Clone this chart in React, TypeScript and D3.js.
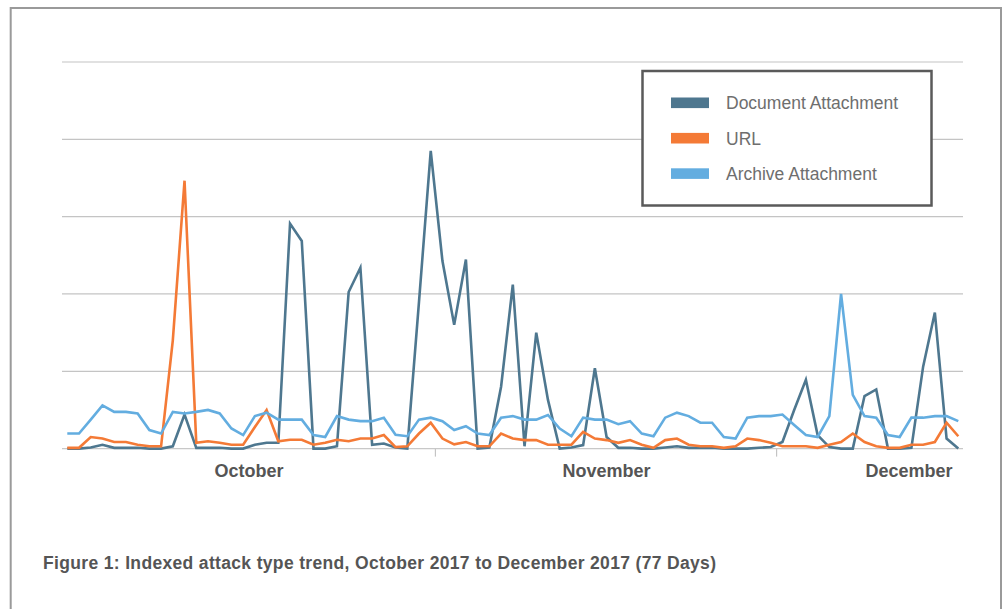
import React from "react";
import * as d3 from "d3";

const seriesNames = ["Document Attachment", "URL", "Archive Attachment"];
const seriesColors = ["#4e778f", "#f47a36", "#63ade0"];

const documentAttachment = [
  0, 0, 0.3, 1.0, 0.2, 0.2, 0.2, 0, 0, 0.6, 8.8, 0.2, 0.2, 0.2, 0, 0, 1.0, 1.5, 1.5, 58.2, 53.7, 0, 0, 0.6, 40.5, 46.8, 1.0,
  1.3, 0.3, 0, 38, 77, 48.5, 32, 48.9, 0, 0.3, 16, 42.4, 0.6, 30, 12.6, 0, 0.3, 0.9, 20.8, 3.0, 0.2, 0.2, 0, 0, 0.3, 0.6, 0.2, 0.2,
  0.2, 0, 0, 0, 0.2, 0.4, 1.7, 10, 17.8, 3.5, 0.4, 0, 0, 13.6, 15.3, 0, 0, 0.2, 21.2, 35.2, 2.6, 0,
];
const url = [
  0.2, 0.2, 3.0, 2.6, 1.7, 1.7, 1.0, 0.6, 0.6, 28, 69.3, 1.5, 1.9, 1.5, 1.0, 1.0, 5.6, 10.0, 1.9, 2.3, 2.3, 1.0, 1.5, 2.3, 1.9, 2.6, 2.6,
  3.5, 0.4, 0.6, 3.9, 6.7, 2.6, 1.1, 1.7, 0.6, 0.6, 3.9, 2.6, 2.2, 2.2, 1.0, 1.0, 1.0, 4.3, 2.6, 2.2, 1.5, 2.2, 1.0, 0.2, 2.2, 2.6, 1.0, 0.6,
  0.6, 0.2, 0.6, 2.6, 2.2, 1.5, 0.6, 0.6, 0.6, 0.2, 1.0, 1.7, 3.9, 1.7, 0.6, 0.2, 0.2, 1.0, 1.0, 1.7, 6.7, 3.2,
];
const archiveAttachment = [
  3.9, 3.9, 7.5, 11.2, 9.5, 9.5, 9.1, 4.8, 3.9, 9.5, 9.1, 9.5, 10.0, 9.1, 5.2, 3.5, 8.4, 9.3, 7.5, 7.5, 7.5, 3.5, 3.0, 8.4, 7.5, 7.1, 7.1,
  8.0, 3.6, 3.2, 7.5, 8.0, 7.1, 4.8, 5.8, 3.9, 3.5, 8.0, 8.4, 7.5, 7.5, 8.7, 5.2, 3.2, 8.0, 7.5, 7.5, 6.3, 7.1, 3.9, 3.2, 8.0, 9.3, 8.4, 6.7,
  6.7, 3.0, 2.6, 8.0, 8.4, 8.4, 8.8, 6.1, 3.5, 3.0, 8.4, 40.0, 13.9, 8.4, 8.0, 3.5, 3.0, 8.0, 8.0, 8.4, 8.4, 7.1,
];

const monthLabels = ["October", "November", "December"];
const monthLabelAt = [15.5, 46.0, 71.8]; // in day-index units
const monthTickAt = [31.4, 60.5];
const yTicks = [0, 20, 40, 60, 80, 100];
const caption = "Figure 1: Indexed attack type trend, October 2017 to December 2017 (77 Days)";

export default function App() {
  const W = 1006;
  const H = 609;
  const x = d3.scaleLinear().domain([0, 76]).range([67.3, 958.3]);
  const y = d3.scaleLinear().domain([0, 100]).range([448.6, 62]);
  const gridX0 = 62;
  const gridX1 = 963;

  const seriesData = [documentAttachment, url, archiveAttachment];
  const line = d3
    .line<number>()
    .x((_, i) => x(i))
    .y((d) => y(d));

  const font = "'Liberation Sans', Arial, Helvetica, sans-serif";

  return (
    <svg
      width={W}
      height={H}
      style={{ position: "absolute", left: 0, top: 0, background: "#fff" }}
    >
      {/* outer frame */}
      <path
        d={`M10.7,${H + 5} L10.7,8 L1001,8 L1001,${H + 5}`}
        fill="none"
        stroke="#9a9a9a"
        strokeWidth={2}
      />
      {/* grid */}
      {yTicks.map((t) => (
        <line
          key={t}
          x1={gridX0}
          x2={gridX1}
          y1={y(t)}
          y2={y(t)}
          stroke={t === 0 ? "#c8c8c8" : "#c4c4c4"}
          strokeWidth={1.2}
        />
      ))}
      {/* month ticks */}
      {monthTickAt.map((t, i) => (
        <line
          key={i}
          x1={x(t)}
          x2={x(t)}
          y1={y(0)}
          y2={y(0) + 8}
          stroke="#c4c4c4"
          strokeWidth={1.2}
        />
      ))}
      {monthLabels.map((m, i) => (
        <text
          key={m}
          x={x(monthLabelAt[i])}
          y={476.7}
          textAnchor="middle"
          fontFamily={font}
          fontWeight="bold"
          fontSize={18}
          fill="#555"
        >
          {m}
        </text>
      ))}
      {/* lines */}
      {seriesData.map((s, i) => (
        <path
          key={i}
          d={line(s) || ""}
          fill="none"
          stroke={seriesColors[i]}
          strokeWidth={2.6}
          strokeLinejoin="miter"
        />
      ))}
      {/* legend */}
      <rect
        x={642.5}
        y={71}
        width={289}
        height={134.5}
        fill="#fff"
        stroke="#5a5a5a"
        strokeWidth={2.5}
      />
      {seriesNames.map((n, i) => {
        const cy = 102.8 + i * 35.4;
        return (
          <g key={n}>
            <rect x={671} y={cy - 5.3} width={38} height={10.6} fill={seriesColors[i]} />
            <text
              x={726}
              y={cy + 6.3}
              fontFamily={font}
              fontSize={17.5}
              fill="#6e6e6e"
            >
              {n}
            </text>
          </g>
        );
      })}
      {/* caption */}
      <text
        x={43}
        y={569}
        fontFamily={font}
        fontWeight="bold"
        fontSize={17.5}
        textLength={673}
        lengthAdjust="spacing"
        fill="#555"
      >
        {caption}
      </text>
    </svg>
  );
}
